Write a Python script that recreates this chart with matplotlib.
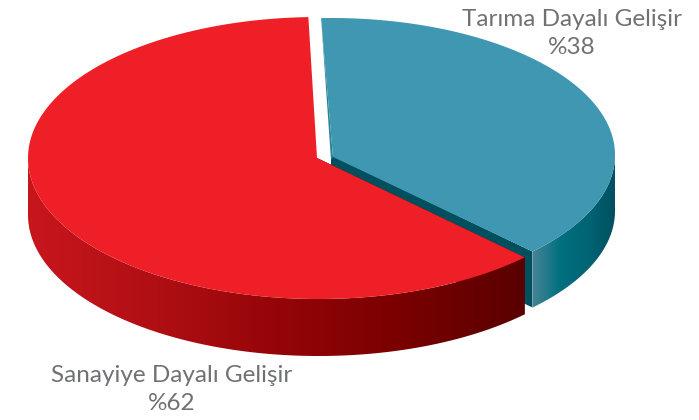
import numpy as np
import matplotlib
matplotlib.use('Agg')
import matplotlib.pyplot as plt
from matplotlib.colors import LinearSegmentedColormap
from matplotlib.patches import Polygon

# Share of each development type (%)
labels = ['Tarıma Dayalı Gelişir', 'Sanayiye Dayalı Gelişir']
shares = [38, 62]

start_angle = 92
split_angle = start_angle - shares[0] * 3.6


def arc(cx, cy, a, b, t1, t2, n=200):
    t = np.radians(np.linspace(t1, t2, n))
    return np.column_stack([cx + a * np.cos(t), cy - b * np.sin(t)])


def gradient_wall(ax, poly, x0, x1, stops, zorder):
    # horizontal gradient clipped to the wall outline
    cmap = LinearSegmentedColormap.from_list('wall', stops)
    y0, y1 = poly[:, 1].min(), poly[:, 1].max()
    grad = np.linspace(0, 1, 256).reshape(1, -1)
    im = ax.imshow(grad, cmap=cmap, extent=(x0, x1, y1, y0), aspect='auto', zorder=zorder)
    im.set_clip_path(Polygon(poly, closed=True, transform=ax.transData))


fig = plt.figure(figsize=(6.99, 4.2), dpi=100)
ax = fig.add_axes([0, 0, 1, 1])

# Blue slice, pulled slightly away from the red one
bx, by, ba, bb, bdepth = 331, 155, 284, 137, 56
top = arc(bx, by, ba, bb, split_angle, 0)
bottom = arc(bx, by + bdepth, ba, bb, 0, split_angle)
wall = np.vstack([top, bottom])
gradient_wall(ax, wall, wall[:, 0].min(), wall[:, 0].max(),
              ['#458496', '#00707f', '#006474', '#004f5e'], 2)

end = arc(bx, by, ba, bb, split_angle, split_angle, 1)[0]
ax.add_patch(Polygon([(bx, by), end, (end[0], end[1] + bdepth), (bx, by + bdepth)],
                     closed=True, fc='#004f5f', ec='none', zorder=3))
rim = arc(bx, by, ba, bb, start_angle, start_angle, 1)[0]
ax.add_patch(Polygon([rim, (bx + 2, by + 2), (bx, by + 5)],
                     closed=True, fc='#2b8496', ec='none', zorder=3))
blue_top = np.vstack([[(bx + 2, by + 2)], arc(bx, by, ba, bb, start_angle, split_angle)])
ax.add_patch(Polygon(blue_top, closed=True, fc='#3f97b1', ec='none', zorder=4))

# Red slice
rx, ry, ra, rb, rdepth = 318.5, 158, 290.5, 141, 57
apex = (rx - 1.5, ry)
red_end = arc(rx, ry, ra, rb, split_angle, split_angle, 1)[0]
ax.add_patch(Polygon([apex, red_end, (red_end[0], red_end[1] + rdepth), (apex[0], ry + rdepth)],
                     closed=True, fc='#5a0000', ec='none', zorder=3.5))
top = arc(rx, ry, ra, rb, 180, 360 + split_angle)
bottom = arc(rx, ry + rdepth, ra, rb, 360 + split_angle, 180)
wall = np.vstack([top, bottom])
gradient_wall(ax, wall, wall[:, 0].min(), wall[:, 0].max(),
              ['#c8161d', '#b00f14', '#950508', '#7a0000', '#5a0000'], 3.6)
red_top = np.vstack([[apex], arc(rx, ry, ra, rb, start_angle, 360 + split_angle)])
ax.add_patch(Polygon(red_top, closed=True, fc='#ee1f27', ec='none', zorder=5))

# Labels
text_style = dict(ha='center', va='center', color='#707174', fontsize=17.5,
                  family='Lato', zorder=6)
ax.text(571.5, 19, labels[0], **text_style)
ax.text(571.5, 48, f'%{shares[0]}', **text_style)
ax.text(171.5, 376, labels[1], **text_style)
ax.text(171.5, 403, f'%{shares[1]}', **text_style)

ax.set_xlim(0, 699)
ax.set_ylim(420, 0)
ax.axis('off')

fig.savefig('out.png', dpi=100)
